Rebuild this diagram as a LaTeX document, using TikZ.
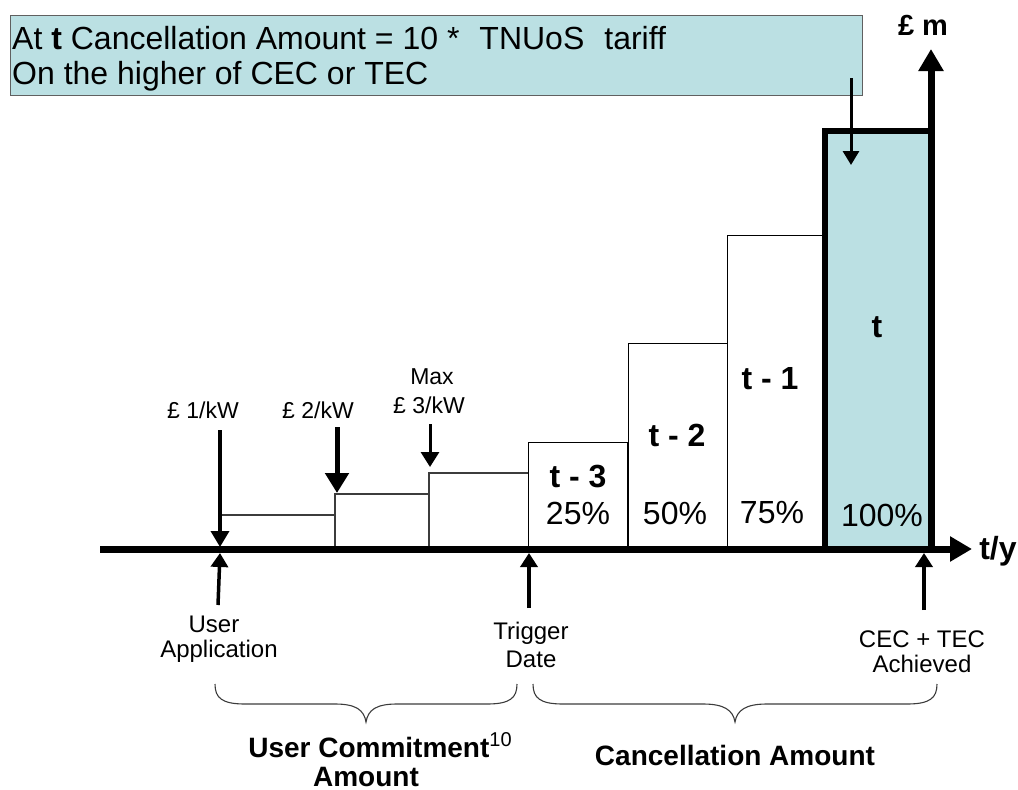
\documentclass[tikz,border=0pt]{standalone}
\usepackage{fontspec}
\setmainfont{Liberation Sans}
\usetikzlibrary{arrows.meta}
\definecolor{lblue}{RGB}{187,224,227}
\definecolor{boxgray}{RGB}{96,96,96}
\definecolor{linegray}{RGB}{60,60,60}
\begin{document}
\begin{tikzpicture}[x=1pt,y=-1pt,
  txt/.style={inner sep=0pt},
  big/.style={txt, font=\fontsize{32}{36}\selectfont},
  bigb/.style={txt, font=\bfseries\fontsize{32}{36}\selectfont},
  small/.style={txt, font=\fontsize{23}{27}\selectfont},
  lab/.style={txt, font=\fontsize{24}{27}\selectfont},
  under/.style={txt, font=\bfseries\fontsize{28}{30}\selectfont},
  axis/.style={line width=7pt, -{Triangle[length=22pt,width=24pt]}},
  bar/.style={draw=black, line width=1pt, fill=white},
  stepline/.style={draw=linegray, line width=1.3pt},
  downarrow/.style={line width=3.5pt, -{Triangle[length=16pt,width=18pt]}},
  bigdown/.style={line width=5pt, -{Triangle[length=20pt,width=23pt]}},
  uparrow/.style={line width=3.5pt, -{Triangle[length=14pt,width=17pt]}},
  bracestyle/.style={draw=linegray, line width=1.1pt},
]
\useasboundingbox (0,0) rectangle (1018,790);

% top box
\node[draw=boxgray, line width=1.2pt, fill=lblue, minimum width=852pt, minimum height=80pt, anchor=north west, inner sep=0pt] (box) at (10,15) {};
\node[big, anchor=base west] (line1) at (12,49) {At \textbf{t} Cancellation Amount = 10 *\hspace{20pt}TNUoS\hspace{20pt}tariff};
\node[big, anchor=base west] (line2) at (12,84) {On the higher of CEC or TEC};

% cancellation bars
\fill[lblue] (824.5,130.5) rectangle (931,549);
\draw[bar] (528,549) rectangle (627,442);
\draw[bar] (628,549) rectangle (727,343);
\draw[bar] (727,549) rectangle (824,235);
\draw[line width=6pt, line join=miter] (931,130.5) -- (824.5,130.5) -- (824.5,549);

% user commitment steps
\draw[stepline] (222,515) -- (335,515);
\draw[stepline] (335,549) -- (335,494) -- (429,494);
\draw[stepline] (429,549) -- (429,473) -- (528,473);

% axes
\coordinate (origin) at (931,549);
\coordinate (ytip) at (931,49);
\coordinate (xstart) at (100,549);
\coordinate (xtip) at (972,549);
\draw[axis] (xstart) -- (xtip);
\draw[axis] (origin) -- (ytip);
\node[txt, font=\bfseries\fontsize{29}{30}\selectfont] (ylab) at (923,25) {£ m};
\node[bigb] (xlab) at (998,551) {t/y};

% box arrow
\coordinate (boxarr) at (851,78);
\coordinate (tarr) at (851,165);
\draw[line width=3pt, -{Triangle[length=14pt,width=16pt]}] (boxarr) -- (tarr);

% bar labels
\node[bigb] (tt) at (877,327) {t};
\node[bigb] (t1) at (770,379) {t - 1};
\node[bigb] (t2) at (677,435) {t - 2};
\node[bigb] (t3) at (578,477) {t - 3};
\node[big] (p25) at (578,513) {25\%};
\node[big] (p50) at (675,513) {50\%};
\node[big] (p75) at (772,513) {75\%};
\node[big] (p100) at (882,515) {100\%};

% per kW labels and arrows
\node[small] (kw1) at (203,410) {£ 1/kW};
\node[small] (kw2) at (318,410) {£ 2/kW};
\node[small] (max) at (432,377) {Max};
\node[small] (kw3) at (429,405) {£ 3/kW};
\coordinate (a1s) at (220,430); \coordinate (a1e) at (220,547);
\coordinate (a2s) at (337,427); \coordinate (a2e) at (337,493);
\coordinate (a3s) at (430,424); \coordinate (a3e) at (430,467);
\draw[downarrow] (a1s) -- (a1e);
\draw[bigdown] (a2s) -- (a2e);
\draw[line width=3pt, -{Triangle[length=15pt,width=18pt]}] (a3s) -- (a3e);

% up arrows and labels
\coordinate (u1s) at (218,605); \coordinate (u1e) at (220,553);
\coordinate (u2s) at (529,608); \coordinate (u2e) at (529,553);
\coordinate (u3s) at (924,610); \coordinate (u3e) at (924,553);
\draw[uparrow] (u1s) -- (u1e);
\draw[uparrow] (u2s) -- (u2e);
\draw[uparrow] (u3s) -- (u3e);
\node[lab, anchor=base] (ua1) at (214,632) {User};
\node[lab, anchor=base] (ua2) at (219,657) {Application};
\node[lab, anchor=base] (td1) at (531,639) {Trigger};
\node[lab, anchor=base] (td2) at (531,667) {Date};
\node[lab, anchor=base] (ce1) at (922,647) {CEC + TEC};
\node[lab, anchor=base] (ce2) at (922,672) {Achieved};

% braces
\draw[bracestyle] (215,684) .. controls (215,698) and (222,704) .. (245,704) -- (335,704) .. controls (356,704) and (364,710) .. (366,722) .. controls (368,710) and (376,704) .. (397,704) -- (487,704) .. controls (510,704) and (517,698) .. (517,684);
\draw[bracestyle] (533,684) .. controls (533,698) and (540,704) .. (563,704) -- (703,704) .. controls (724,704) and (733,710) .. (735,722) .. controls (737,710) and (746,704) .. (767,704) -- (907,704) .. controls (930,704) and (937,698) .. (937,684);

\node[under, anchor=base] (uc1) at (380,757) {User Commitment\raisebox{11pt}{\mdseries\fontsize{20}{20}\selectfont 10}};
\node[under, anchor=base] (uc2) at (366,786) {Amount};
\node[under, anchor=base] (ca) at (735,765) {Cancellation Amount};
\end{tikzpicture}
\end{document}
